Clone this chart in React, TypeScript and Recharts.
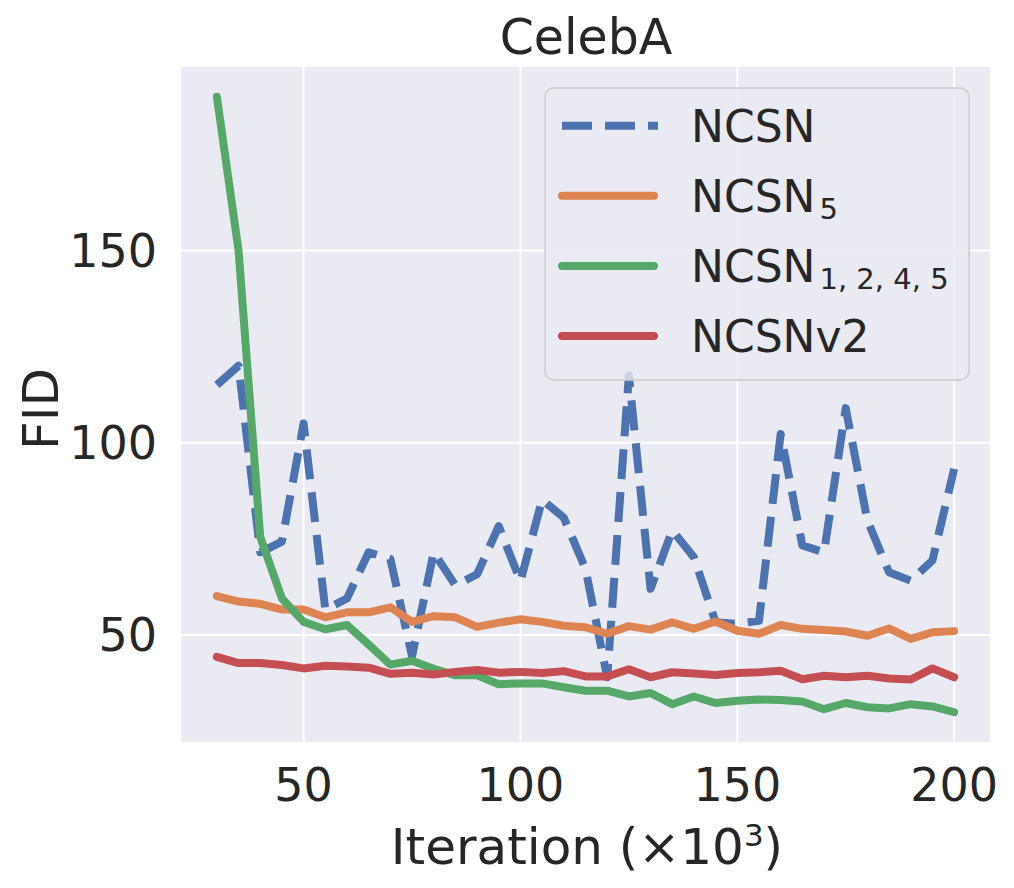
import { LineChart, Line, XAxis, YAxis, CartesianGrid, Legend } from 'recharts';

// iteration (x10^3) at which FID was measured
const iterations = [
  30, 35, 40, 45, 50, 55, 60, 65, 70, 75, 80, 85, 90, 95, 100, 105, 110, 115,
  120, 125, 130, 135, 140, 145, 150, 155, 160, 165, 170, 175, 180, 185, 190, 195, 200,
];

const ncsn = [
  115, 120, 71.5, 74.3, 105, 56.6, 59.5, 71.5, 69.8, 44.5, 71.5, 62.9, 65.8, 78.3, 64, 85.2, 80.5, 67.2,
  39, 117.5, 62, 77.2, 70.2, 53.3, 52.9, 53.7, 102.3, 73.3, 71.5, 109, 79.8, 66.3, 64.1, 69.4, 93.2,
];
const ncsn5 = [
  60.1, 58.7, 58.1, 56.6, 56.6, 54.6, 55.9, 55.9, 57.2, 53.4, 54.9, 54.6, 52.1, 53.2, 54.1, 53.4, 52.4, 52,
  50.3, 52.3, 51.4, 53.3, 51.6, 53.5, 51.1, 50.3, 52.6, 51.6, 51.3, 50.9, 49.8, 51.7, 49, 50.7, 51,
];
const ncsn1245 = [
  190, 150, 75.5, 59.5, 53.4, 51.5, 52.6, 47.5, 42.3, 43.3, 41.2, 39.5, 39.5, 37.2, 37.4, 37.4, 36.4, 35.5,
  35.5, 34, 34.9, 32, 34, 32.3, 32.9, 33.2, 33.1, 32.7, 30.7, 32.3, 31.2, 30.9, 32, 31.4, 29.9,
];
const ncsnV2 = [
  44.3, 42.7, 42.7, 42.2, 41.3, 42, 41.8, 41.5, 39.9, 40.2, 39.7, 40.4, 40.9, 40.2, 40.4, 40.1, 40.6, 39.2,
  39.2, 41.1, 39, 40.3, 40, 39.6, 40.1, 40.3, 40.7, 38.5, 39.4, 39, 39.4, 38.7, 38.4, 41.3, 39,
];

const xTicks = [50, 100, 150, 200];
const yTicks = [50, 100, 150];

const series = [
  { key: 'ncsn', name: 'NCSN', sub: '', color: '#4C72B0', dashed: true },
  { key: 'ncsn5', name: 'NCSN', sub: '5', color: '#DD8452', dashed: false },
  { key: 'ncsn1245', name: 'NCSN', sub: '1, 2, 4, 5', color: '#55A868', dashed: false },
  { key: 'ncsnV2', name: 'NCSNv2', sub: '', color: '#C44E52', dashed: false },
];

const data = iterations.map((it, i) => ({
  it,
  ncsn: ncsn[i],
  ncsn5: ncsn5[i],
  ncsn1245: ncsn1245[i],
  ncsnV2: ncsnV2[i],
}));

const FONT = 'DejaVu Sans';
const TEXT = '#262626';

function LegendBox() {
  return (
    <svg width={426} height={294} style={{ display: 'block', overflow: 'visible', fontFamily: FONT }}>
      <rect
        x={1}
        y={1}
        width={424}
        height={292}
        rx={9}
        fill="rgba(234,234,242,0.8)"
        stroke="rgba(204,204,204,0.8)"
        strokeWidth={2}
      />
      {series.map((s, i) => {
        const y = 38.7 + i * 70.1;
        return (
          <g key={s.key}>
            <line
              x1={18}
              x2={s.dashed ? 114 : 110}
              y1={y}
              y2={y}
              stroke={s.color}
              strokeWidth={8}
              strokeDasharray={s.dashed ? '30 13' : undefined}
              strokeLinecap={s.dashed ? 'butt' : 'round'}
            />
            <text x={147} y={y + 16} fontSize={44} fill={TEXT}>
              {s.name}
              {s.sub && (
                <tspan fontSize={29} dx={4} dy={7}>
                  {s.sub}
                </tspan>
              )}
            </text>
          </g>
        );
      })}
    </svg>
  );
}

export default function App() {
  return (
    <div
      style={{
        position: 'absolute',
        left: 0,
        top: 0,
        width: 1014,
        height: 888,
        background: '#fff',
        fontFamily: FONT,
      }}
    >
      <LineChart
        width={1014}
        height={888}
        data={data}
        margin={{ top: 66, right: 23, bottom: 85, left: 70 }}
      >
        <CartesianGrid fill="#EAEAF2" stroke="#fff" strokeWidth={2} />
        <XAxis
          dataKey="it"
          type="number"
          domain={[21.5, 208.5]}
          ticks={xTicks}
          height={60}
          axisLine={false}
          tickLine={false}
          tickSize={0}
          tickMargin={25}
          tick={{ fill: TEXT, fontSize: 46, fontFamily: FONT }}
        />
        <YAxis
          type="number"
          domain={[21.9, 198]}
          ticks={yTicks}
          width={110}
          axisLine={false}
          tickLine={false}
          tickSize={0}
          tickMargin={23}
          tick={{ fill: TEXT, fontSize: 46, fontFamily: FONT }}
        />
        {series.map((s) => (
          <Line
            key={s.key}
            type="linear"
            dataKey={s.key}
            stroke={s.color}
            strokeWidth={8}
            strokeDasharray={s.dashed ? '30 13' : undefined}
            strokeLinecap={s.dashed ? 'butt' : 'round'}
            strokeLinejoin="round"
            dot={false}
            activeDot={false}
            isAnimationActive={false}
          />
        ))}
        <Legend
          layout="vertical"
          align="center"
          verticalAlign="middle"
          content={() => <LegendBox />}
          wrapperStyle={{ left: 544, top: 87, width: 426, height: 294 }}
        />
      </LineChart>

      <svg
        width={1014}
        height={888}
        style={{ position: 'absolute', left: 0, top: 0, pointerEvents: 'none', fontFamily: FONT }}
      >
        <text x={586} y={54} textAnchor="middle" fontSize={49} fill={TEXT}>
          CelebA
        </text>
        <text x={587} y={864} textAnchor="middle" fontSize={50} fill={TEXT}>
          Iteration (×10
          <tspan fontSize={31} dy={-18}>
            3
          </tspan>
          <tspan dy={18}>)</tspan>
        </text>
        <text
          x={58}
          y={409}
          textAnchor="middle"
          fontSize={50}
          fill={TEXT}
          transform="rotate(-90 58 409)"
        >
          FID
        </text>
      </svg>
    </div>
  );
}
